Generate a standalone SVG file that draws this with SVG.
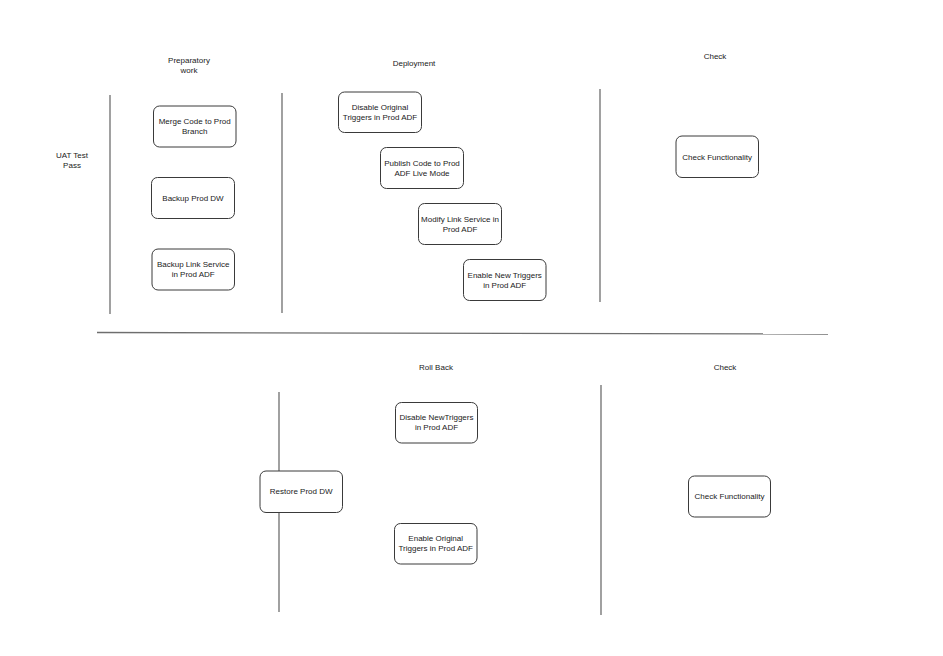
<svg xmlns="http://www.w3.org/2000/svg" width="943" height="656" viewBox="0 0 943 656">
<style>
.n{fill:#fff;stroke:#3a3a3a;stroke-width:1}
.t{font-family:"Liberation Sans",Arial,sans-serif;font-size:8px;fill:#1a1a1a;text-anchor:middle}
.l{stroke:#6e6e6e;stroke-width:1.3;fill:none}
</style>
<rect width="943" height="656" fill="#fff"/>
<g id="connectors">
<line class="l" x1="110" y1="95" x2="110" y2="314"/>
<line class="l" x1="282" y1="93" x2="282" y2="313"/>
<line class="l" x1="600" y1="89" x2="600" y2="302"/>
<line class="l" x1="97" y1="332.5" x2="828" y2="334"/>
<line class="l" x1="279" y1="392" x2="279" y2="612"/>
<line class="l" x1="601" y1="385" x2="601" y2="615"/>
</g>
<g id="labels">
<text class="t" x="189" y="63">Preparatory</text>
<text class="t" x="189" y="73">work</text>
<text class="t" x="72" y="158">UAT Test</text>
<text class="t" x="72" y="168">Pass</text>
<text class="t" x="414" y="66">Deployment</text>
<text class="t" x="715" y="59">Check</text>
<text class="t" x="436" y="370">Roll Back</text>
<text class="t" x="725" y="370">Check</text>
</g>
<g id="merge"><rect class="n" x="153.5" y="106" width="82.5" height="41" rx="6"/><text class="t" x="194.7" y="124">Merge Code to Prod</text><text class="t" x="194.7" y="134">Branch</text></g>
<g id="backupdw"><rect class="n" x="151.5" y="177.5" width="83" height="41" rx="6"/><text class="t" x="193" y="201">Backup Prod DW</text></g>
<g id="backuplink"><rect class="n" x="152" y="249" width="82.5" height="41" rx="6"/><text class="t" x="193.2" y="267">Backup Link Service</text><text class="t" x="193.2" y="277">in Prod ADF</text></g>
<g id="disableorig"><rect class="n" x="338.5" y="92" width="83" height="40.5" rx="6"/><text class="t" x="380" y="110">Disable Original</text><text class="t" x="380" y="120">Triggers in Prod ADF</text></g>
<g id="publish"><rect class="n" x="380.5" y="147.5" width="83" height="41" rx="6"/><text class="t" x="422" y="166">Publish Code to Prod</text><text class="t" x="422" y="176">ADF Live Mode</text></g>
<g id="modify"><rect class="n" x="418.5" y="203.5" width="83" height="41" rx="6"/><text class="t" x="460" y="222">Modify Link Service in</text><text class="t" x="460" y="232">Prod ADF</text></g>
<g id="enablenew"><rect class="n" x="463.5" y="259.5" width="82.5" height="41" rx="6"/><text class="t" x="504.7" y="278">Enable New Triggers</text><text class="t" x="504.7" y="288">in Prod ADF</text></g>
<g id="check1"><rect class="n" x="676" y="136" width="82.5" height="41.5" rx="6"/><text class="t" x="717.2" y="160">Check Functionality</text></g>
<g id="disablenew"><rect class="n" x="395.5" y="402.5" width="82" height="40.5" rx="6"/><text class="t" x="436.5" y="420">Disable NewTriggers</text><text class="t" x="436.5" y="430">in Prod ADF</text></g>
<g id="restore"><rect class="n" x="260" y="471" width="82.5" height="41.5" rx="6"/><text class="t" x="301.2" y="494">Restore Prod DW</text></g>
<g id="enableorig"><rect class="n" x="394.5" y="523.5" width="82.5" height="40.5" rx="6"/><text class="t" x="435.7" y="541">Enable Original</text><text class="t" x="435.7" y="551">Triggers in Prod ADF</text></g>
<g id="check2"><rect class="n" x="688.5" y="476" width="82" height="41" rx="6"/><text class="t" x="729.5" y="499">Check Functionality</text></g>
</svg>
